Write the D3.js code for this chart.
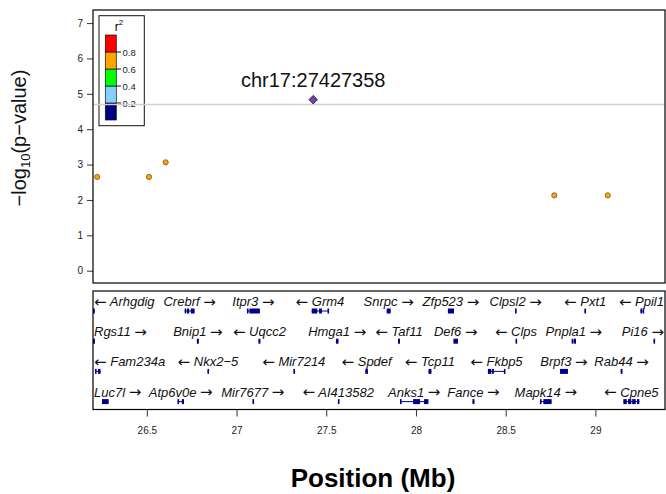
<!DOCTYPE html>
<html><head><meta charset="utf-8">
<script src="https://cdn.jsdelivr.net/npm/d3@7"></script>
<style>body{margin:0;background:#fff}svg{display:block;font-family:"Liberation Sans",Arial,sans-serif}</style>
</head><body><svg id="c" width="666" height="494"></svg>
<script>
// ---------- data ----------
const xTicks = [26.5, 27, 27.5, 28, 28.5, 29];
const yTicks = [0, 1, 2, 3, 4, 5, 6, 7];
const snpPos = [26.2235, 26.512, 26.605, 28.771, 29.069];
const snpLogP = [2.65, 2.65, 3.065, 2.13, 2.13];
const snpR2 = [0.7, 0.7, 0.7, 0.7, 0.7];
const leadPos = 27.427358;
const leadLogP = 4.835;
const leadLabel = "chr17:27427358";
const threshold = 4.7;
const ldBreaks = [0.2, 0.4, 0.6, 0.8];
const ldColors = ["#000080", "#87CEFA", "#00FF00", "#FFA500", "#FF0000"];
const geneNames = ["Arhgdig","Crebrf","Itpr3","Grm4","Snrpc","Zfp523","Clpsl2","Pxt1","Ppil1",
  "Rgs11","Bnip1","Uqcc2","Hmga1","Taf11","Def6","Clps","Pnpla1","Pi16",
  "Fam234a","Nkx2\u22125","Mir7214","Spdef","Tcp11","Fkbp5","Brpf3","Rab44",
  "Luc7l","Atp6v0e","Mir7677","AI413582","Anks1","Fance","Mapk14","Cpne5"];
const geneStrand = ["-","+","+","-","+","+","+","-","-",
  "+","+","-","+","-","+","-","+","+",
  "-","-","-","-","-","-","+","+",
  "+","+","+","-","+","+","+","-"];
const geneRow = [0,0,0,0,0,0,0,0,0, 1,1,1,1,1,1,1,1,1, 2,2,2,2,2,2,2,2, 3,3,3,3,3,3,3,3];
const geneStart = [26.200,26.711,27.058,27.419,27.837,28.178,28.552,28.939,29.251,
  26.200,26.779,27.122,27.554,27.900,28.209,28.555,28.868,29.324,
  26.211,26.838,27.317,27.718,28.070,28.401,28.803,29.141,
  26.250,26.671,27.089,27.565,27.911,28.315,28.691,29.156];
const geneEnd = [26.210,26.766,27.130,27.511,27.859,28.212,28.560,28.947,29.268,
  26.211,26.790,27.133,27.568,27.911,28.234,28.560,28.892,29.332,
  26.242,26.843,27.321,27.732,28.086,28.496,28.847,29.151,
  26.287,26.707,27.093,27.569,28.069,28.326,28.756,29.245];
const geneExons = [
  null, [[26.711,26.717],[26.724,26.736],[26.745,26.766]], [[27.058,27.062],[27.072,27.130]],
  [[27.419,27.450],[27.460,27.476],[27.507,27.511]], null, null, null, null, [[29.251,29.256],[29.263,29.268]],
  null, null, null, null, null, null, null, [[28.868,28.874],[28.880,28.892]], null,
  [[26.211,26.220],[26.228,26.242]], null, null, null, null, [[28.401,28.420],[28.424,28.434],[28.490,28.496]], null, null,
  null, [[26.671,26.680],[26.695,26.707]], null, null, [[27.911,27.916],[27.984,28.023],[28.045,28.069]], null,
  [[28.691,28.696],[28.710,28.756]], [[29.156,29.175],[29.182,29.200],[29.205,29.225],[29.232,29.245]]
];

// ---------- layout ----------
const svg = d3.select("#c");
const L = 93, R = 665, T = 10, B = 283, GT = 291, GB = 409.5;
const x = d3.scaleLinear().domain([26.2, 29.388]).range([L, R]);
const y = d3.scaleLinear().domain([-0.348, 7.37]).range([B, T]);
const ldColor = d3.scaleThreshold().domain(ldBreaks).range(ldColors);

svg.append("defs").append("clipPath").attr("id","gclip")
  .append("rect").attr("x",L).attr("y",GT).attr("width",R-L).attr("height",GB-GT);

// y axis
const ya = svg.append("g").attr("transform",`translate(${L},0)`)
  .call(d3.axisLeft(y).tickValues(yTicks).tickSize(6).tickPadding(4).tickFormat(d3.format("d")));
ya.select(".domain").remove();
ya.selectAll("text").attr("font-size",10).attr("fill","#222").attr("font-family","Liberation Sans, Arial");
ya.selectAll("line").attr("stroke","#333");

// y label
svg.append("text").attr("transform","translate(26,138) rotate(-90)").attr("text-anchor","middle")
  .attr("font-size",20).attr("fill","#111")
  .call(t=>{t.append("tspan").text("\u2212log");
    t.append("tspan").attr("font-size",13).attr("dy",4).text("10");
    t.append("tspan").attr("dy",-4).text("(p\u2212value)");});

// legend
const lg = svg.append("g");
lg.append("rect").attr("x",99).attr("y",15.7).attr("width",45.3).attr("height",110)
  .attr("fill","#fff").attr("stroke","#111").attr("stroke-width",1);
lg.append("text").attr("x",119).attr("y",31).attr("text-anchor","middle").attr("font-size",12)
  .call(t=>{t.append("tspan").text("r");t.append("tspan").attr("font-size",8).attr("dy",-6).text("2");});
const ly = d3.scaleLinear().domain([0,1]).range([120,35]);
const bins = [0].concat(ldBreaks).concat([1]);
lg.selectAll("rect.b").data(ldColors).join("rect").attr("class","b")
  .attr("x",105.3).attr("width",11)
  .attr("y",(d,i)=>ly(bins[i+1])).attr("height",(d,i)=>ly(bins[i])-ly(bins[i+1]))
  .attr("fill",d=>d).attr("stroke","#111").attr("stroke-width",0.7);
lg.selectAll("line.t").data(ldBreaks).join("line").attr("class","t")
  .attr("x1",116.3).attr("x2",121).attr("y1",d=>ly(d)).attr("y2",d=>ly(d)).attr("stroke","#111");
lg.selectAll("text.t").data(ldBreaks).join("text").attr("class","t")
  .attr("x",122.5).attr("y",d=>ly(d)+3.5).attr("font-size",9.5).attr("fill","#222").text(d=>d.toFixed(1));

// threshold
svg.append("line").attr("x1",L).attr("x2",R).attr("y1",y(threshold)).attr("y2",y(threshold))
  .attr("stroke","#cfcfcf").attr("stroke-width",1.5);

// points
svg.selectAll("circle.s").data(snpPos).join("circle").attr("class","s")
  .attr("cx",d=>x(d)).attr("cy",(d,i)=>y(snpLogP[i])).attr("r",2.6)
  .attr("fill",(d,i)=>ldColor(snpR2[i])).attr("stroke","#6b4a10").attr("stroke-width",0.7);
svg.append("path").attr("d",d3.symbol(d3.symbolDiamond2? d3.symbolDiamond2 : d3.symbolDiamond, 48)())
  .attr("transform",`translate(${x(leadPos)},${y(leadLogP)})`)
  .attr("fill","#6E44A6").attr("stroke","#2a1a40").attr("stroke-width",0.8);
svg.append("text").attr("x",x(leadPos)).attr("y",86.5).attr("text-anchor","middle")
  .attr("font-size",20).attr("fill","#111").text(leadLabel);

// top panel frame
svg.append("rect").attr("x",L).attr("y",T).attr("width",R-L).attr("height",B-T)
  .attr("fill","none").attr("stroke","#000").attr("stroke-width",1.2);

// gene panel
const gp = svg.append("g").attr("clip-path","url(#gclip)");
const rowBase = r => 306 + r*30.2;
const genes = geneNames.map((n,i)=>({name:n, strand:geneStrand[i], row:geneRow[i],
  s:geneStart[i], e:geneEnd[i], exons: geneExons[i] || [[geneStart[i],geneEnd[i]]]}));
genes.forEach(g=>{
  const cy = rowBase(g.row)+5;
  gp.append("line").attr("x1",x(g.s)).attr("x2",x(g.e)).attr("y1",cy).attr("y2",cy)
    .attr("stroke","#00008B").attr("stroke-width",1);
  g.exons.forEach(ex=>{
    const w = Math.max(1.6, x(ex[1])-x(ex[0]));
    gp.append("rect").attr("x",x(ex[0])).attr("width",w).attr("y",cy-2.5).attr("height",5)
      .attr("fill","#00008B");
  });
});
const gl = svg.append("g");
const arrowT = (t, ch) => t.append("tspan").attr("font-family","DejaVu Sans").attr("font-style","normal")
  .attr("font-size",15).attr("dy",0.5).text(ch);
genes.forEach(g=>{
  const t = gl.append("text").attr("y",rowBase(g.row)).attr("font-size",13).attr("font-style","italic")
    .attr("fill","#111");
  if (g.strand==="+") {
    t.append("tspan").text(g.name+" ");
    arrowT(t, "\u2192");
  } else {
    arrowT(t, "\u2190");
    t.append("tspan").attr("dy",-0.5).text(" "+g.name);
  }
  const w = t.node().getComputedTextLength();
  let cx = x((g.s+g.e)/2);
  cx = Math.max(L+1+w/2, Math.min(R-1-w/2, cx));
  t.attr("x",cx).attr("text-anchor","middle");
});
svg.append("rect").attr("x",L).attr("y",GT).attr("width",R-L).attr("height",GB-GT)
  .attr("fill","none").attr("stroke","#000").attr("stroke-width",1.2);

// x axis
const xa = svg.append("g").attr("transform",`translate(0,${GB})`)
  .call(d3.axisBottom(x).tickValues(xTicks).tickSize(7).tickPadding(10).tickFormat(d=>String(d)));
xa.select(".domain").remove();
xa.selectAll("text").attr("font-size",10).attr("fill","#222").attr("font-family","Liberation Sans, Arial");
xa.selectAll("line").attr("stroke","#333");

svg.append("text").attr("x",373).attr("y",487).attr("text-anchor","middle").attr("font-size",26)
  .attr("font-weight","bold").attr("fill","#000").text("Position (Mb)");
</script></body></html>
